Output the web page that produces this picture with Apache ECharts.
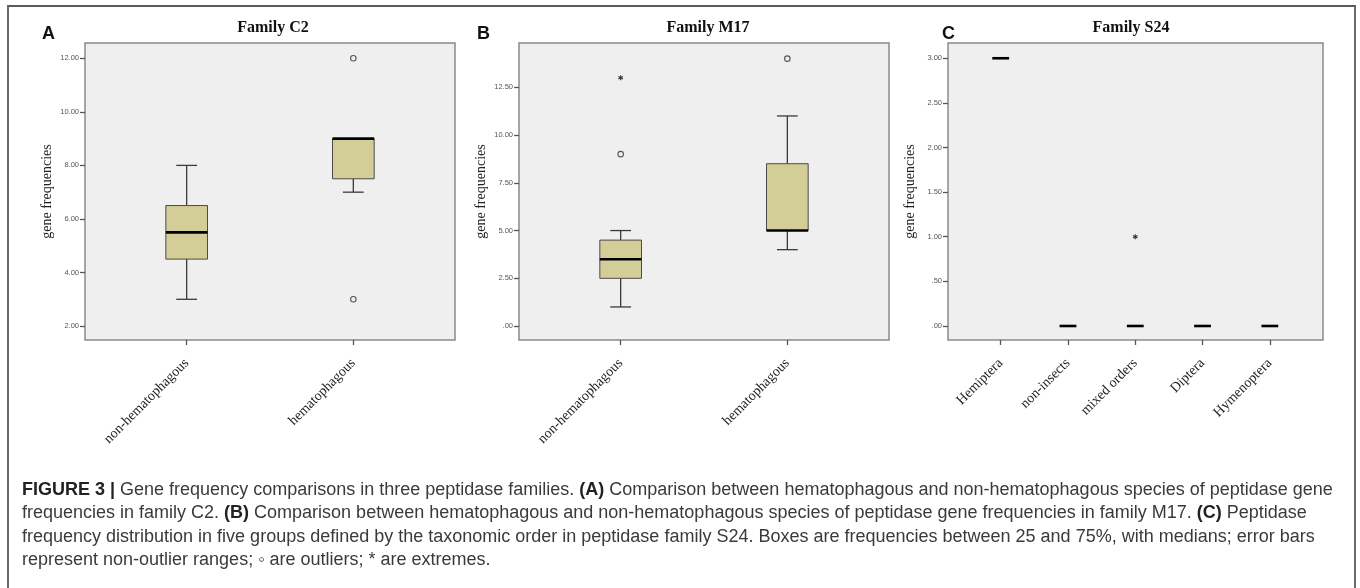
<!DOCTYPE html>
<html>
<head>
<meta charset="utf-8">
<script src="https://cdn.jsdelivr.net/npm/echarts@6/dist/echarts.min.js"></script>
<style>
html,body{margin:0;padding:0;background:#fff;}
#chart{width:1360px;height:588px;}
</style>
</head>
<body>
<div id="chart"></div>
<script>
// ---------- DATA ----------
// Box statistics per category: [lower whisker, Q1, median, Q3, upper whisker]
const c2Categories = ['non-hematophagous', 'hematophagous'];
const c2Boxes = [[3, 4.5, 5.5, 6.5, 8], [7, 7.5, 9, 9, 9]];
const c2Outliers = [[2, 12], [2, 3]];          // [category number, value]
const c2Extremes = [];
const c2YTicks = [2, 4, 6, 8, 10, 12];

const m17Categories = ['non-hematophagous', 'hematophagous'];
const m17Boxes = [[1, 2.5, 3.5, 4.5, 5], [4, 5, 5, 8.5, 11]];
const m17Outliers = [[1, 9], [2, 14]];
const m17Extremes = [[1, 13]];
const m17YTicks = [0, 2.5, 5, 7.5, 10, 12.5];

const s24Categories = ['Hemiptera', 'non-insects', 'mixed orders', 'Diptera', 'Hymenoptera'];
const s24Boxes = [[3, 3, 3, 3, 3], [0, 0, 0, 0, 0], [0, 0, 0, 0, 0], [0, 0, 0, 0, 0], [0, 0, 0, 0, 0]];
const s24Outliers = [];
const s24Extremes = [[3, 1]];
const s24YTicks = [0, 0.5, 1, 1.5, 2, 2.5, 3];

const panelTitles = ['Family C2', 'Family M17', 'Family S24'];
const panelLetters = ['A', 'B', 'C'];
const yAxisName = 'gene frequencies';
const captionLines = [
  '{b|FIGURE 3 |}{r| Gene frequency comparisons in three peptidase families. }{b|(A)}{r| Comparison between hematophagous and non-hematophagous species of peptidase gene}',
  '{r|frequencies in family C2. }{b|(B)}{r| Comparison between hematophagous and non-hematophagous species of peptidase gene frequencies in family M17. }{b|(C)}{r| Peptidase}',
  '{r|frequency distribution in five groups defined by the taxonomic order in peptidase family S24. Boxes are frequencies between 25 and 75%, with medians; error bars}',
  '{r|represent non-outlier ranges; \u25E6 are outliers; * are extremes.}'
];

// ---------- LAYOUT / STYLE ----------
const panels = [
  {cats: c2Categories, boxes: c2Boxes, out: c2Outliers, ext: c2Extremes, ticks: c2YTicks,
   grid: {left: 85, top: 43, width: 370, height: 297}, xMin: 0.39, xMax: 2.61, yMin: 1.48, yMax: 12.57,
   titleX: 273, letterX: 42},
  {cats: m17Categories, boxes: m17Boxes, out: m17Outliers, ext: m17Extremes, ticks: m17YTicks,
   grid: {left: 519, top: 43, width: 370, height: 297}, xMin: 0.39, xMax: 2.61, yMin: -0.73, yMax: 14.82,
   titleX: 708, letterX: 477},
  {cats: s24Categories, boxes: s24Boxes, out: s24Outliers, ext: s24Extremes, ticks: s24YTicks,
   grid: {left: 948, top: 43, width: 375, height: 297}, xMin: 0.217, xMax: 5.79, yMin: -0.157, yMax: 3.171,
   titleX: 1131, letterX: 942}
];

function fmtY(v) {
  let s = Number(v).toFixed(2);
  if (s.startsWith('0.')) s = s.slice(1);
  return s;
}

function boxRender(params, api) {
  const x = api.value(0);
  const low = api.value(1), q1 = api.value(2), med = api.value(3), q3 = api.value(4), high = api.value(5);
  const px = api.coord([x, med])[0];
  const y = v => api.coord([x, v])[1];
  const boxW = api.size([1, 0])[0] * 0.25;
  const half = boxW / 2, cap = boxW / 4;
  const ws = {stroke: '#3a3a3a', lineWidth: 1.3};
  const ch = [];
  if (low < q1) {
    ch.push({type: 'line', shape: {x1: px, y1: y(low), x2: px, y2: y(q1)}, style: ws});
    ch.push({type: 'line', shape: {x1: px - cap, y1: y(low), x2: px + cap, y2: y(low)}, style: ws});
  }
  if (high > q3) {
    ch.push({type: 'line', shape: {x1: px, y1: y(q3), x2: px, y2: y(high)}, style: ws});
    ch.push({type: 'line', shape: {x1: px - cap, y1: y(high), x2: px + cap, y2: y(high)}, style: ws});
  }
  if (q3 > q1) {
    ch.push({type: 'rect', shape: {x: px - half, y: y(q3), width: boxW, height: y(q1) - y(q3)},
      style: {fill: '#d3ce97', stroke: '#4a4a4a', lineWidth: 1}});
  }
  ch.push({type: 'line', shape: {x1: px - half, y1: y(med), x2: px + half, y2: y(med)},
    style: {stroke: '#000', lineWidth: 2.6}});
  return {type: 'group', children: ch};
}

function starRender(params, api) {
  const p = api.coord([api.value(0), api.value(1)]);
  const r = 2.6;
  const st = {stroke: '#333', lineWidth: 1.1};
  const ch = [];
  for (let a = 0; a < 3; a++) {
    const ang = Math.PI / 2 + a * Math.PI / 3;
    const dx = Math.cos(ang) * r, dy = Math.sin(ang) * r;
    ch.push({type: 'line', shape: {x1: p[0] - dx, y1: p[1] - dy, x2: p[0] + dx, y2: p[1] + dy}, style: st});
  }
  return {type: 'group', children: ch};
}

const grids = [], xAxes = [], yAxes = [], series = [], graphics = [];

panels.forEach((pn, i) => {
  grids.push(Object.assign({show: true, backgroundColor: '#efefef', borderColor: '#8a8a8a', borderWidth: 1.5,
    containLabel: false, outerBoundsMode: 'none'}, pn.grid));
  const xTicks = pn.cats.map((c, k) => k + 1);
  xAxes.push({
    type: 'value', gridIndex: i, min: pn.xMin, max: pn.xMax, position: 'bottom',
    axisLine: {show: false, onZero: false}, splitLine: {show: false},
    axisTick: {show: true, length: 5, customValues: xTicks, lineStyle: {color: '#555', width: 1.3}},
    axisLabel: {show: true, customValues: xTicks, formatter: v => pn.cats[Math.round(v) - 1] || '',
      rotate: 45, margin: 21, fontFamily: 'Liberation Serif', fontSize: 14, color: '#222'}
  });
  yAxes.push({
    type: 'value', gridIndex: i, min: pn.yMin, max: pn.yMax, position: 'left',
    name: yAxisName, nameLocation: 'middle', nameGap: 31,
    nameTextStyle: {fontFamily: 'Liberation Serif', fontSize: 14, color: '#222'},
    axisLine: {show: false, onZero: false}, splitLine: {show: false},
    axisTick: {show: true, length: 5, customValues: pn.ticks, lineStyle: {color: '#555', width: 1.3}},
    axisLabel: {show: true, customValues: pn.ticks, formatter: fmtY, margin: 6,
      fontFamily: 'Liberation Sans', fontSize: 7.5, color: '#555'}
  });
  series.push({
    type: 'custom', xAxisIndex: i, yAxisIndex: i, renderItem: boxRender, silent: true,
    encode: {x: 0, y: [1, 2, 3, 4, 5]},
    data: pn.boxes.map((b, k) => [k + 1].concat(b))
  });
  series.push({
    type: 'scatter', xAxisIndex: i, yAxisIndex: i, symbol: 'circle', symbolSize: 5.5, silent: true,
    itemStyle: {color: '#efefef', borderColor: '#555', borderWidth: 1.1, opacity: 1},
    data: pn.out
  });
  series.push({
    type: 'custom', xAxisIndex: i, yAxisIndex: i, renderItem: starRender, silent: true,
    encode: {x: 0, y: 1}, data: pn.ext
  });
  graphics.push({type: 'text', x: pn.titleX, y: 28,
    style: {text: panelTitles[i], font: 'bold 16px "Liberation Serif"', fill: '#111',
      align: 'center', verticalAlign: 'middle', textAlign: 'center', textVerticalAlign: 'middle'}});
  graphics.push({type: 'text', x: pn.letterX, y: 34,
    style: {text: panelLetters[i], font: 'bold 18px "Liberation Sans"', fill: '#111',
      align: 'left', verticalAlign: 'middle', textAlign: 'left', textVerticalAlign: 'middle'}});
});

graphics.push({type: 'polyline', shape: {points: [[8, 600], [8, 6], [1355, 6], [1355, 600]]},
  style: {stroke: '#5a5a5a', lineWidth: 1.8, fill: null}, silent: true});

const capFont = {fontFamily: 'Liberation Sans', fontSize: 18, lineHeight: 23.5};
const option = {
  animation: false,
  backgroundColor: '#ffffff',
  grid: grids, xAxis: xAxes, yAxis: yAxes, series: series,
  title: [{
    text: captionLines.join('\n'), left: 22, top: 478, padding: 0,
    textStyle: Object.assign({color: '#333', fontWeight: 'normal',
      rich: {
        r: Object.assign({color: '#3a3a3a', fontWeight: 'normal'}, capFont),
        b: Object.assign({color: '#222', fontWeight: 'bold'}, capFont)
      }}, capFont)
  }],
  graphic: graphics
};

const chart = echarts.init(document.getElementById('chart'), null, {renderer: 'canvas'});
chart.setOption(option);
</script>
</body>
</html>
